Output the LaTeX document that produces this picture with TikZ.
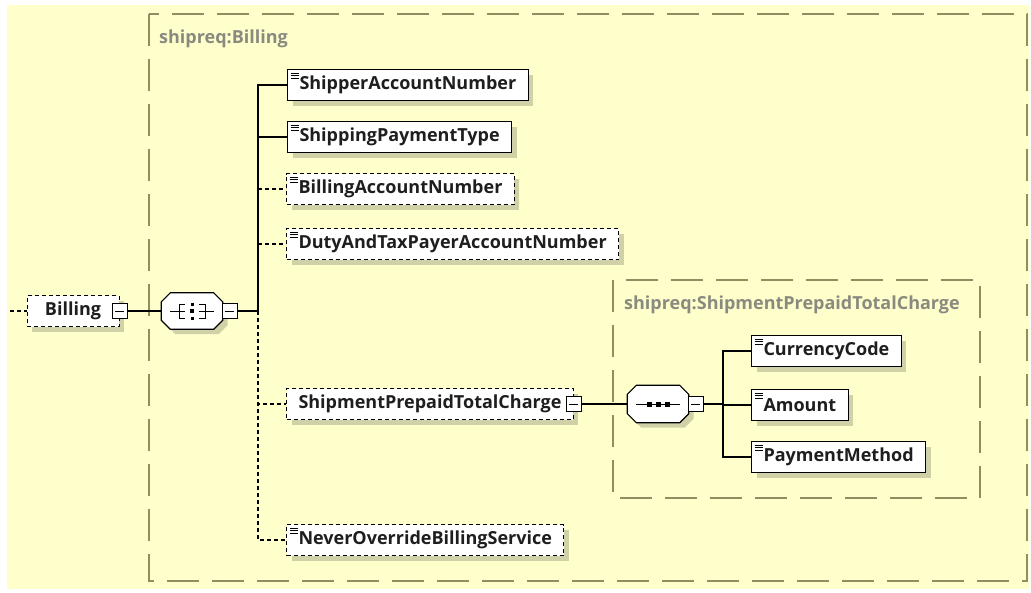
\documentclass[tikz,border=0pt]{standalone}
\usepackage{fontspec}
\setmainfont{Open Sans}
\usetikzlibrary{shadows}
\definecolor{paper}{HTML}{FFFFCC}
\definecolor{frame}{HTML}{8E8E62}
\definecolor{grouptxt}{HTML}{8A8A80}
\definecolor{ink}{HTML}{1E1E1E}
% octagon outline around a compositor node
\newcommand{\octa}[1]{%
	\draw[fill=white, line width=1.2pt, shade] ([xshift=9pt]#1.north west) -- ([xshift=-9pt]#1.north east) -- ([yshift=-9pt]#1.north east) -- ([yshift=9pt]#1.south east) -- ([xshift=-9pt]#1.south east) -- ([xshift=9pt]#1.south west) -- ([yshift=9pt]#1.south west) -- ([yshift=-9pt]#1.north west) -- cycle;}

\begin{document}
\begin{tikzpicture}[x=1pt, y=-1pt,
	every node/.style={font=\fontsize{18}{20}\selectfont\bfseries, text=ink},
	shade/.style={drop shadow={shadow xshift=5pt, shadow yshift=-5pt, fill=black, opacity=0.18}},
	elem/.style={draw, fill=white, line width=1pt, minimum height=31pt, inner xsep=12pt, inner ysep=0pt, anchor=west, shade,
		path picture={\foreach \d in {3.5,6,8.5} \draw[solid, line width=0.8pt] ([xshift=3pt, yshift=-\d pt]path picture bounding box.north west) -- ++(8pt,0pt);}},
	opt/.style={elem, dashed, dash pattern=on 4pt off 3pt},
	optplain/.style={draw, fill=white, line width=1pt, minimum height=31pt, inner xsep=12pt, inner ysep=0pt, shade, dashed, dash pattern=on 4pt off 3pt},
	tog/.style={draw, solid, fill=white, line width=1pt, minimum size=15pt, inner sep=0pt,
		path picture={\draw[line width=1pt] ([xshift=3pt]path picture bounding box.west) -- ([xshift=-3pt]path picture bounding box.east);}},
	comp/.style={minimum width=61pt, minimum height=36pt, inner sep=0pt},
	grp/.style={font=\fontsize{18}{20}\selectfont\bfseries, text=grouptxt, anchor=west, inner sep=0pt},
	frm/.style={draw=frame, line width=1.4pt, dash pattern=on 32pt off 13pt},
	link/.style={draw=black, line width=1.2pt},
	optlink/.style={link, dash pattern=on 4pt off 3pt}
	]
	% page and group frames
	\fill[white] (0,0) rectangle (1031,592);
	\fill[paper] (7,5) rectangle (1029,589);
	\draw[frm] (149,14) rectangle (1027,581);
	\draw[frm] (613,280) rectangle (980,498);
	\node[grp] (lbill) at (159,39) {shipreq:Billing};
	\node[grp] (lsptc) at (624,305) {shipreq:ShipmentPrepaidTotalCharge};

	% root element and choice
	\node[optplain, minimum width=92pt] (bill) at (73,311) {Billing};
	\node[tog] (billt) at (bill.east) {};
	\node[comp] (ch) at (192,311) {};
	\octa{ch}
	\node[tog, anchor=west] (cht) at ([xshift=-1pt]ch.east) {};
	\begin{scope}[shift={(ch.center)}, line width=1pt]
		\draw (-22,0) -- (-13,0);
		\draw (-7,-7) -- (-13,-7) -- (-13,7) -- (-7,7);
		\draw (-13,0) -- (-7,0);
		\draw (7,-7) -- (13,-7) -- (13,7) -- (7,7);
		\draw (13,0) -- (7,0);
		\draw (13,0) -- (22,0);
		\fill (-1.5,-8.5) rectangle (1.5,-5.5);
		\fill (-2,-2) rectangle (2,2);
		\fill (-1.5,5.5) rectangle (1.5,8.5);
	\end{scope}
	\coordinate (in) at (10,311);
	\coordinate (bm) at (258,311);

	% children of Billing
	\node[elem] (sacc) at (287,85) {ShipperAccountNumber};
	\node[elem] (spt) at (287,137) {ShippingPaymentType};
	\node[opt] (ban) at (286,189) {BillingAccountNumber};
	\node[opt] (duty) at (286,244) {DutyAndTaxPayerAccountNumber};
	\node[optplain, anchor=west] (sptc) at (286,404) {ShipmentPrepaidTotalCharge\hspace{6pt}};
	\node[tog] (sptct) at (sptc.east) {};
	\node[opt] (nev) at (286,540) {NeverOverrideBillingService};

	% sequence of ShipmentPrepaidTotalCharge
	\node[comp, minimum height=37pt] (seq) at (658,404) {};
	\octa{seq}
	\node[tog, anchor=west] (seqt) at ([xshift=-1pt]seq.east) {};
	\begin{scope}[shift={(seq.center)}, line width=1pt]
		\draw (-22,0) -- (22,0);
		\foreach \s in {-9,0,9} \fill (\s-2.5,-2.5) rectangle (\s+2.5,2.5);
	\end{scope}
	\coordinate (sq) at (723,404);
	\node[elem] (cur) at (751,351) {CurrencyCode};
	\node[elem] (amt) at (751,405) {Amount};
	\node[elem] (pay) at (751,457) {PaymentMethod};

	% connectors
	\draw[optlink] (in) -- (bill.west);
	\draw[link] (billt.east) -- (ch.west);
	\draw[link] (cht.east) -- (bm);
	\draw[link] (bm) |- (sacc.west);
	\draw[link] (bm) |- (spt.west);
	\draw[optlink] (bm |- ban.west) -- (ban.west);
	\draw[optlink] (bm |- duty.west) -- (duty.west);
	\draw[optlink] (bm) |- (sptc.west);
	\draw[optlink] (bm) |- (nev.west);
	\draw[link] (sptct.east) -- (seq.west);
	\draw[link] (seqt.east) -- (sq);
	\draw[link] (sq) |- (cur.west);
	\draw[link] (sq) |- (amt.west);
	\draw[link] (sq) |- (pay.west);
\end{tikzpicture}
\end{document}
